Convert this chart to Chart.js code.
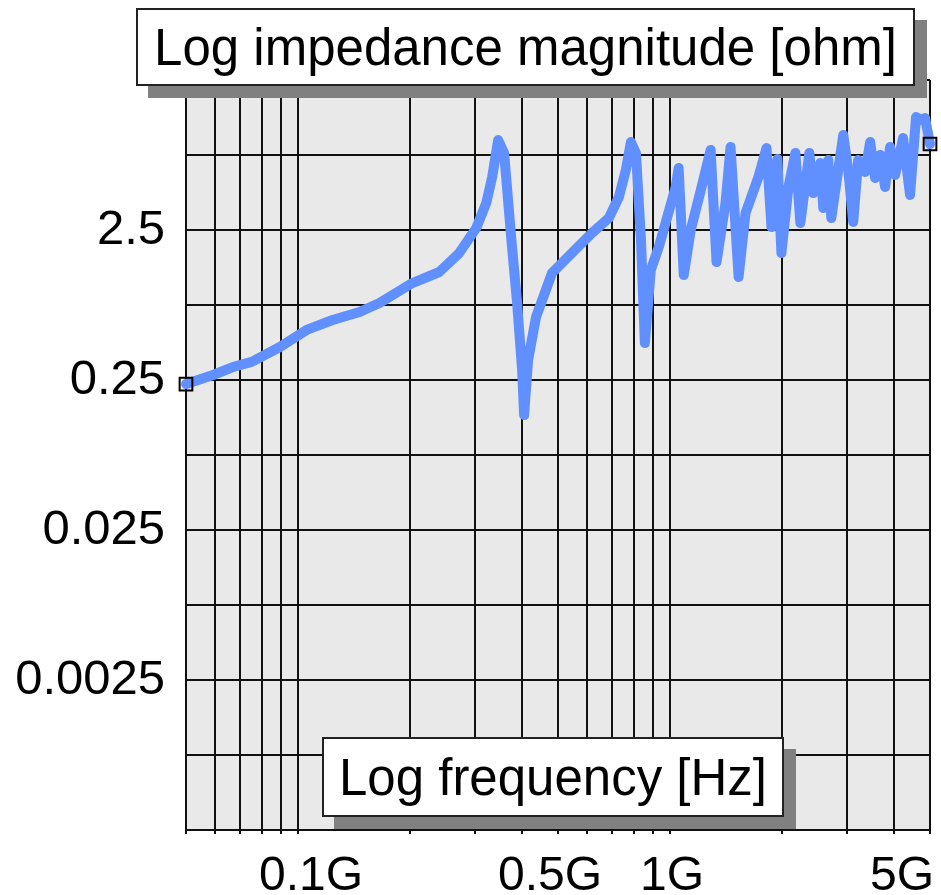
<!DOCTYPE html>
<html>
<head>
<meta charset="utf-8">
<script src="https://cdn.jsdelivr.net/npm/chart.js@4.4.1/dist/chart.umd.min.js"></script>
<style>
  html, body { margin: 0; padding: 0; background: #fff; }
  #wrap { position: relative; width: 941px; height: 895px; overflow: hidden; }
  canvas { position: absolute; left: 0; top: 0; }
  .tbox {
    position: absolute; box-sizing: border-box; background: #fff;
    border: 2px solid #222; box-shadow: 12px 12px 0 #808080;
    font-family: "Liberation Sans", Arial, sans-serif; font-size: 51px; color: #000;
    display: flex; align-items: center; justify-content: center; white-space: nowrap;
  }
  #ytitle { left: 136px; top: 8px; width: 779px; height: 78px; }
  #xtitle { left: 322px; top: 737px; width: 462px; height: 80px; }
</style>
</head>
<body>
<div id="wrap">
  <canvas id="c" width="941" height="895"></canvas>
  <div class="tbox" id="ytitle">Log impedance magnitude [ohm]</div>
  <div class="tbox" id="xtitle">Log frequency [Hz]</div>
</div>
<script>
// ---- data (frequency in GHz, impedance magnitude in ohm) ----
const freqGHz = [0.05, 0.0591, 0.0668, 0.0751, 0.0894, 0.1055, 0.1239, 0.1464, 0.1656, 0.203,
  0.2398, 0.2713, 0.3014, 0.3206, 0.3327, 0.3452, 0.3582, 0.3741, 0.3882, 0.4004,
  0.4054, 0.4155, 0.4365, 0.4818, 0.545, 0.617, 0.685, 0.729, 0.761, 0.785,
  0.810, 0.835, 0.856, 0.888, 0.933, 1.036, 1.055, 1.089, 1.137, 1.216,
  1.286, 1.334, 1.410, 1.455, 1.529, 1.596, 1.729, 1.817, 1.874, 1.945,
  1.993, 2.082, 2.173, 2.241, 2.369, 2.428, 2.536, 2.583, 2.664, 2.714,
  2.923, 3.014, 3.109, 3.206, 3.347, 3.452, 3.560, 3.672, 3.787, 3.906,
  4.029, 4.233, 4.419, 4.587, 4.730, 4.849, 5.0];
const impedanceOhm = [0.235, 0.270, 0.305, 0.330, 0.415, 0.539, 0.628, 0.710, 0.815, 1.108,
  1.312, 1.756, 2.577, 3.78, 5.64, 9.95, 8.15, 2.245, 0.815, 0.2915,
  0.146, 0.340, 0.658, 1.291, 1.756, 2.387, 3.005, 4.15, 6.28, 9.65,
  8.15, 2.245, 0.441, 1.353, 1.925, 4.84, 6.48, 1.253, 2.5, 4.84,
  8.54, 1.530, 3.78, 8.94, 1.215, 3.24, 5.64, 8.80, 2.62, 7.43,
  1.756, 4.84, 8.15, 2.78, 8.15, 4.41, 6.99, 3.50, 7.32, 3.005,
  10.75, 6.28, 2.83, 7.32, 6.09, 9.65, 5.55, 7.91, 4.84, 8.94,
  5.82, 10.26, 4.28, 14.17, 13.53, 13.95, 9.36];

// ---- axes: grid values and tick labels ----
const xGridValues = [0.05, 0.06, 0.07, 0.08, 0.09, 0.1, 0.2, 0.3, 0.4, 0.5, 0.6, 0.7, 0.8, 0.9, 1, 2, 3, 4, 5];
const xTickValues = [0.1, 0.5, 1, 5];
const xTickLabels = ['0.1G', '0.5G', '1G', '5G'];
const yGridValues = [0.00025, 0.0007906, 0.0025, 0.007906, 0.025, 0.07906, 0.25, 0.7906, 2.5, 7.906, 25];
const yTickValues = [2.5, 0.25, 0.025, 0.0025];
const yTickLabels = ['2.5', '0.25', '0.025', '0.0025'];

const FONT = '"Liberation Sans", Arial, sans-serif';
const points = freqGHz.map((f, i) => ({ x: f, y: impedanceOhm[i] }));
const lastIdx = points.length - 1;

const plotBg = {
  id: 'plotBg',
  beforeDraw(chart) {
    const { ctx, chartArea: a } = chart;
    ctx.save();
    ctx.fillStyle = '#e9e9e9';
    ctx.fillRect(a.left, a.top, a.right - a.left, a.bottom - a.top);
    ctx.restore();
  }
};

// x tick labels drawn at scale positions, nudged like the reference
const xLabelOffsets = [13, -8, 2, -28];
const xLabels = {
  id: 'xLabels',
  afterDraw(chart) {
    const { ctx } = chart;
    const sx = chart.scales.x;
    ctx.save();
    ctx.font = '48px ' + FONT;
    ctx.fillStyle = '#000';
    ctx.textAlign = 'center';
    ctx.textBaseline = 'alphabetic';
    xTickValues.forEach((v, i) => {
      ctx.fillText(xTickLabels[i], sx.getPixelForValue(v) + xLabelOffsets[i], 890);
    });
    ctx.restore();
  }
};

function near(a, b) { return Math.abs(Math.log10(a) - Math.log10(b)) < 1e-3; }

new Chart(document.getElementById('c'), {
  type: 'line',
  data: {
    datasets: [{
      data: points,
      borderColor: '#6090ff',
      borderWidth: 10,
      borderJoinStyle: 'round',
      borderCapStyle: 'round',
      tension: 0,
      fill: false,
      clip: false,
      pointStyle: 'rect',
      pointRadius: (c) => (c.dataIndex === 0 || c.dataIndex === lastIdx) ? 9 : 0,
      pointBorderColor: '#000',
      pointBorderWidth: 2,
      pointBackgroundColor: 'rgba(0,0,0,0)'
    }]
  },
  options: {
    responsive: false,
    animation: false,
    devicePixelRatio: 1,
    layout: { padding: { top: 80, right: 9, left: 0, bottom: 0 } },
    plugins: { legend: { display: false }, tooltip: { enabled: false }, title: { display: false } },
    scales: {
      x: {
        type: 'logarithmic',
        min: 0.05, max: 5,
        afterBuildTicks: (s) => { s.ticks = xGridValues.map(v => ({ value: v })); },
        afterFit: (s) => { s.height = 65; s.paddingLeft = 0; s.paddingRight = 0; },
        grid: { color: '#111', lineWidth: 2, drawTicks: true, tickLength: 4, tickColor: '#111' },
        border: { color: '#111', width: 2 },
        ticks: { display: false, autoSkip: false }
      },
      y: {
        type: 'logarithmic',
        min: 0.00025, max: 25,
        afterBuildTicks: (s) => { s.ticks = yGridValues.map(v => ({ value: v })); },
        afterFit: (s) => { s.width = 186; s.paddingTop = 0; s.paddingBottom = 0; },
        grid: { color: '#111', lineWidth: 2, drawTicks: false },
        border: { color: '#111', width: 2 },
        ticks: {
          autoSkip: false,
          padding: 21,
          color: '#000',
          font: { family: FONT, size: 49 },
          callback: (v) => {
            const i = yTickValues.findIndex(t => near(t, v));
            return i >= 0 ? yTickLabels[i] : '';
          }
        }
      }
    }
  },
  plugins: [plotBg, xLabels]
});
</script>
</body>
</html>
